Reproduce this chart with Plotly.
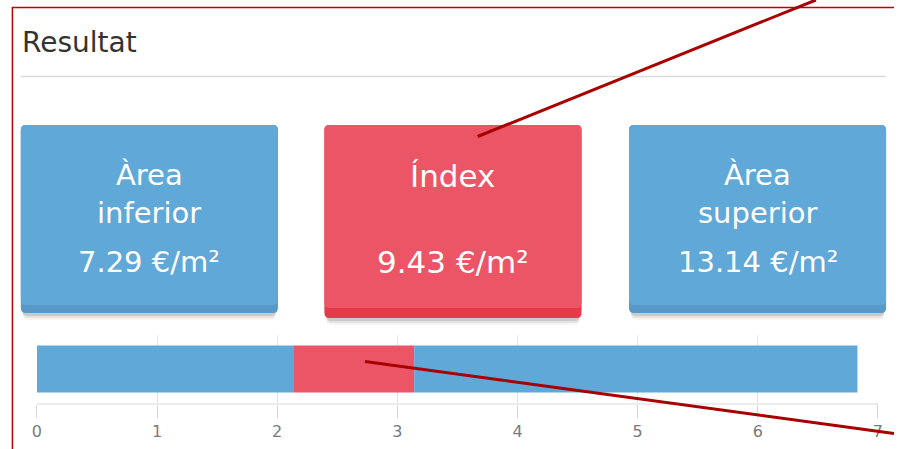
import plotly.graph_objects as go

# ---- data ----
box_titles = ["Àrea<br>inferior", "Índex", "Àrea<br>superior"]
box_values = [7.29, 9.43, 13.14]
unit = "€/m²"
range_lower = 2.14     # start of index segment on the bar
range_upper = 3.14     # end of index segment on the bar
range_max = 6.83       # end of bar
tick_vals = [0, 1, 2, 3, 4, 5, 6, 7]
title_text = "Resultat"

W, H = 899, 449
def px(x): return x / W
def py(y): return 1 - y / H

FONT = "DejaVu Sans"
BLUE = "#60a8d8"
BLUE_DARK = "#5899c8"
RED = "#ec5566"
RED_DARK = "#e63a4c"
MARK = "#a80000"

fig = go.Figure()

segs = [
    (0, range_lower, BLUE),
    (range_lower, range_upper - range_lower, RED),
    (range_upper, range_max - range_upper, BLUE),
]
for base, length, col in segs:
    fig.add_trace(go.Bar(
        y=["r"], x=[length], base=[base], orientation="h",
        marker=dict(color=col, line=dict(width=0)), width=0.69,
        hoverinfo="skip", showlegend=False))

fig.update_layout(
    width=W, height=H, autosize=False,
    margin=dict(l=0, r=0, t=0, b=0),
    paper_bgcolor="white", plot_bgcolor="white",
    barmode="overlay",
    xaxis=dict(domain=[px(32.3), px(882.7)], range=[0, 7], tickvals=tick_vals,
               showgrid=True, gridcolor="#e4e4e4", gridwidth=1, zeroline=False,
               showline=True, linecolor="#ececec", linewidth=2,
               ticks="outside", ticklen=13, tickcolor="#d6d6d6", tickwidth=1,
               tickfont=dict(family=FONT, size=16, color="#7a7a7a"),
               fixedrange=True),
    yaxis=dict(domain=[py(403), py(335)], range=[-0.5, 0.5], showticklabels=False,
               showgrid=False, zeroline=False, fixedrange=True),
)

shapes = []
annotations = []

# red outer border (top & left)
shapes.append(dict(type="line", xref="paper", yref="paper", x0=px(7), x1=px(899), y0=py(7.5), y1=py(7.5),
                   line=dict(color="#c00000", width=1.5)))
shapes.append(dict(type="line", xref="paper", yref="paper", x0=px(7.5), x1=px(7.5), y0=py(7), y1=py(449),
                   line=dict(color="#c00000", width=1.5)))

# title and divider
annotations.append(dict(text=title_text, xref="paper", yref="paper", x=px(15), y=py(42),
                        xanchor="left", yanchor="middle", showarrow=False,
                        font=dict(family=FONT, size=28, color="#333333")))
shapes.append(dict(type="line", xref="paper", yref="paper", x0=px(16), x1=px(891), y0=py(76.5), y1=py(76.5),
                   line=dict(color="#dcdcdc", width=1.5)))

def rounded(x0, y0, x1, y1, r=4):
    return ("M {a},{b} L {c},{b} Q {d},{b} {d},{e} L {d},{f} Q {d},{g} {c},{g} "
            "L {a},{g} Q {h},{g} {h},{f} L {h},{e} Q {h},{b} {a},{b} Z").format(
        a=px(x0 + r), b=py(y0), c=px(x1 - r), d=px(x1), e=py(y0 + r),
        f=py(y1 - r), g=py(y1), h=px(x0))

boxes = [
    dict(x0=16, x1=276, y1=313, strip=8, col=BLUE, dark=BLUE_DARK, size=29),
    dict(x0=323, x1=583, y1=318, strip=10, col=RED, dark=RED_DARK, size=31),
    dict(x0=631, x1=891, y1=313, strip=8, col=BLUE, dark=BLUE_DARK, size=29),
]
top = 125
for i, b in enumerate(boxes):
    for k, a in [(7, 0.04), (5, 0.07), (3, 0.11)]:
        shapes.append(dict(type="path", xref="paper", yref="paper",
                           path=rounded(b["x0"] + 2, top + k, b["x1"] - 2, b["y1"] + k, 5),
                           fillcolor=f"rgba(0,0,0,{a})", line=dict(width=0)))
    shapes.append(dict(type="path", xref="paper", yref="paper",
                       path=rounded(b["x0"], top, b["x1"], b["y1"], 5),
                       fillcolor=b["dark"], line=dict(width=0)))
    shapes.append(dict(type="path", xref="paper", yref="paper",
                       path=rounded(b["x0"], top, b["x1"], b["y1"] - b["strip"], 5),
                       fillcolor=b["col"], line=dict(width=0)))
    cx = (b["x0"] + b["x1"]) / 2
    lines = box_titles[i].split("<br>")
    ys = [175, 213] if len(lines) == 2 else [176]
    for t, yy in zip(lines, ys):
        annotations.append(dict(text=t, xref="paper", yref="paper", x=px(cx), y=py(yy),
                                xanchor="center", yanchor="middle", showarrow=False,
                                font=dict(family=FONT, size=b["size"], color="white")))
    annotations.append(dict(text=f"{box_values[i]:.2f} {unit}", xref="paper", yref="paper",
                            x=px(cx), y=py(262), xanchor="center", yanchor="middle", showarrow=False,
                            font=dict(family=FONT, size=b["size"], color="white")))

# dark red marker lines
shapes.append(dict(type="line", xref="paper", yref="paper", x0=px(478), y0=py(136.5), x1=px(820), y1=py(0),
                   line=dict(color=MARK, width=3)))
shapes.append(dict(type="line", xref="paper", yref="paper", x0=px(364), y0=py(361.5), x1=px(899), y1=py(433.5),
                   line=dict(color=MARK, width=3)))

fig.update_layout(shapes=shapes, annotations=annotations)

fig.write_html("out.html", config={"displayModeBar": False, "staticPlot": True},
               post_script="document.body.style.margin='0';document.body.style.overflow='hidden';")
